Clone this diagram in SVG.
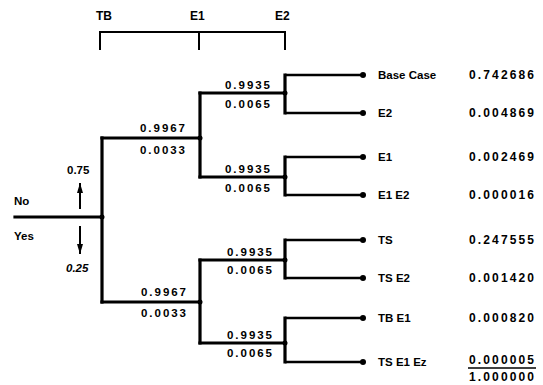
<svg xmlns="http://www.w3.org/2000/svg" width="543" height="385" viewBox="0 0 543 385">
<defs>
<marker id="ah" markerWidth="10" markerHeight="6" refX="10" refY="3" orient="auto" markerUnits="userSpaceOnUse" viewBox="0 0 10 6">
<path d="M0,0 L10,3 L0,6 Z" fill="#000"/>
</marker>
<style>
text{font-family:"Liberation Sans",Arial,sans-serif;font-weight:bold;fill:#000}
.h{font-size:12px}
.p{font-size:11.5px}
.l{font-size:11.5px}
.v{font-size:12px}
.br{stroke:#000;stroke-width:3.2;fill:none;stroke-linecap:square}
.lf{stroke:#000;stroke-width:2.6;fill:none}
.bk{stroke:#000;stroke-width:2;fill:none}
.dot{fill:#000}
</style>
</defs>
<g id="header">
<text class="h" x="96" y="20">TB</text>
<text class="h" x="190" y="20">E1</text>
<text class="h" x="275" y="20">E2</text>
<path class="bk" d="M100,50 V32 H285 V50 M199,32 V50"/>
</g>
<g id="connectors">
<path class="br" d="M15,217 H102"/>
<path class="br" d="M102,138 V302"/>
<path class="br" d="M102,138 H200 M102,302 H200"/>
<path class="br" d="M200,93 V177 M200,260 V343"/>
<path class="br" d="M200,93 H285 M200,177 H285 M200,260 H285 M200,343 H285"/>
<path class="br" d="M285,75 V113 M285,157 V195 M285,240 V278 M285,318 V362"/>
<path class="lf" d="M285,75 H363 M285,113 H363 M285,157 H363 M285,195 H363 M285,240 H363 M285,278 H363 M285,318 H363 M285,362 H363"/>
<circle class="dot" cx="102" cy="217" r="2.5"/>
<circle class="dot" cx="200" cy="138" r="2.5"/>
<circle class="dot" cx="200" cy="302" r="2.5"/>
<circle class="dot" cx="285" cy="93" r="2.5"/>
<circle class="dot" cx="285" cy="177" r="2.5"/>
<circle class="dot" cx="285" cy="260" r="2.5"/>
<circle class="dot" cx="285" cy="343" r="2.5"/>
<line x1="80" y1="209" x2="80" y2="183" stroke="#000" stroke-width="2" marker-end="url(#ah)"/>
<line x1="80" y1="226" x2="80" y2="254" stroke="#000" stroke-width="2" marker-end="url(#ah)"/>
</g>
<g id="root">
<text class="l" x="14" y="205">No</text>
<text class="l" x="14" y="240">Yes</text>
<text class="p" x="67" y="174">0.75</text>
<text class="p" x="66" y="272" font-style="italic">0.25</text>
</g>
<g id="branch-no">
<text class="p" x="140" y="132" textLength="45">0.9967</text>
<text class="p" x="140" y="154" textLength="45">0.0033</text>
</g>
<g id="branch-yes">
<text class="p" x="141" y="296" textLength="45">0.9967</text>
<text class="p" x="141" y="317" textLength="45">0.0033</text>
</g>
<g id="sub1">
<text class="p" x="225" y="89" textLength="45">0.9935</text>
<text class="p" x="225" y="108" textLength="45">0.0065</text>
</g>
<g id="sub2">
<text class="p" x="225" y="173" textLength="45">0.9935</text>
<text class="p" x="225" y="192" textLength="45">0.0065</text>
</g>
<g id="sub3">
<text class="p" x="227" y="256" textLength="45">0.9935</text>
<text class="p" x="227" y="274" textLength="45">0.0065</text>
</g>
<g id="sub4">
<text class="p" x="227" y="339" textLength="45">0.9935</text>
<text class="p" x="227" y="357" textLength="45">0.0065</text>
</g>
<g id="leaf1"><circle class="dot" cx="363" cy="75" r="3"/><text class="l" x="378" y="79">Base Case</text><text class="v" x="469" y="79" textLength="65">0.742686</text></g>
<g id="leaf2"><circle class="dot" cx="363" cy="113" r="3"/><text class="l" x="378" y="117">E2</text><text class="v" x="469" y="117" textLength="65">0.004869</text></g>
<g id="leaf3"><circle class="dot" cx="363" cy="157" r="3"/><text class="l" x="378" y="161">E1</text><text class="v" x="469" y="161" textLength="65">0.002469</text></g>
<g id="leaf4"><circle class="dot" cx="363" cy="195" r="3"/><text class="l" x="378" y="199">E1 E2</text><text class="v" x="469" y="199" textLength="65">0.000016</text></g>
<g id="leaf5"><circle class="dot" cx="363" cy="240" r="3"/><text class="l" x="378" y="244">TS</text><text class="v" x="469" y="244" textLength="65">0.247555</text></g>
<g id="leaf6"><circle class="dot" cx="363" cy="278" r="3"/><text class="l" x="378" y="282">TS E2</text><text class="v" x="469" y="282" textLength="65">0.001420</text></g>
<g id="leaf7"><circle class="dot" cx="363" cy="318" r="3"/><text class="l" x="378" y="322">TB E1</text><text class="v" x="469" y="322" textLength="65">0.000820</text></g>
<g id="leaf8"><circle class="dot" cx="363" cy="362" r="3"/><text class="l" x="378" y="366">TS E1 Ez</text><text class="v" x="469" y="364" textLength="65">0.000005</text></g>
<g id="total">
<line x1="468" y1="368" x2="536" y2="368" stroke="#000" stroke-width="1.5"/>
<text class="v" x="469" y="381" textLength="65">1.000000</text>
</g>
</svg>
